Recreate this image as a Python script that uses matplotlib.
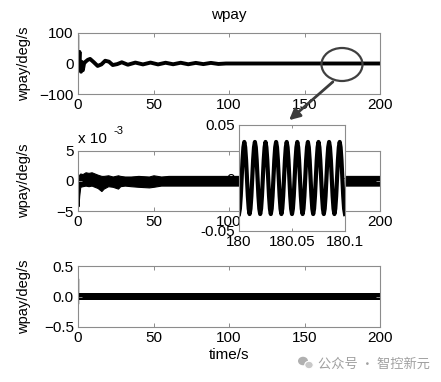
import numpy as np
import matplotlib
matplotlib.use("Agg")
import matplotlib.pyplot as plt
from matplotlib.patches import Ellipse, FancyArrowPatch

plt.rcParams["font.family"] = ["Liberation Sans", "DejaVu Sans"]

# top panel: slow damped response (deg/s)
t_top = [0, 0.6, 1.0, 1.5, 2.0, 2.6, 3.2, 4.0, 5.0, 6.5, 8.0, 10.5, 13.0, 15.5, 18.0,
         20.5, 23.0, 26.0, 29.0, 33.0, 38.0, 43.0, 48.0, 53.0, 58.0, 63.0, 68.0,
         73.0, 78.0, 83.0, 88.0, 93.0, 98.0, 200]
w_top = [0, 10, 38, -20, -27, 5, -22, 0, 6, 12, 15, 4, -8, -3, 9,
         6, -5, -2, 4, -4, 3, -3, 3, -3, 2.5, -2.5, 2.5,
         -2.5, 2, -2, 2, -1.5, 0, 0]
spike_top_t = [0.2, 0.2]
spike_top_v = [0, 95]
# high-frequency band envelope, top panel
band_top_t = [95, 200]
band_top_hi = [3, 3]
band_top_lo = [-3, -3]

# middle panel envelope (x 1e-3 deg/s)
t_mid = [0, 0.3, 0.8, 1.5, 3, 5, 7, 9, 11, 13, 15.5, 17, 20, 23, 26.5, 28, 31, 35,
         40, 47, 50, 55, 60, 65, 70, 100, 150, 200]
mid_hi = [0, 0.5, 1.0, 1.2, 1.1, 1.4, 1.3, 1.4, 1.2, 1.0, 0.8, 0.8, 0.9, 0.7, 0.9,
          0.8, 0.7, 0.7, 0.8, 0.7, 0.9, 0.7, 0.8, 0.8, 0.8, 0.8, 0.8, 0.8]
mid_lo = [0, -4.2, -2.5, -1.0, -0.9, -0.8, -0.9, -0.8, -1.0, -1.2, -1.7, -1.3, -0.9,
          -1.0, -1.3, -0.9, -0.8, -0.9, -1.0, -1.1, -1.0, -0.8, -0.8, -0.8, -0.8,
          -0.8, -0.8, -0.8]

# inset: zoom 180 s .. 180.1 s
t_ins = np.linspace(180.0, 180.1, 121)
w_ins = [-0.034, -0.029, -0.017, 0.000, 0.017, 0.029, 0.034, 0.029, 0.017, 0.000, -0.017, -0.029,
         -0.034, -0.029, -0.017, 0.000, 0.017, 0.029, 0.034, 0.029, 0.017, 0.000, -0.017, -0.029,
         -0.034, -0.029, -0.017, 0.000, 0.017, 0.029, 0.034, 0.029, 0.017, 0.000, -0.017, -0.029,
         -0.034, -0.029, -0.017, 0.000, 0.017, 0.029, 0.034, 0.029, 0.017, 0.000, -0.017, -0.029,
         -0.034, -0.029, -0.017, 0.000, 0.017, 0.029, 0.034, 0.029, 0.017, 0.000, -0.017, -0.029,
         -0.034, -0.029, -0.017, 0.000, 0.017, 0.029, 0.034, 0.029, 0.017, 0.000, -0.017, -0.029,
         -0.034, -0.029, -0.017, 0.000, 0.017, 0.029, 0.034, 0.029, 0.017, 0.000, -0.017, -0.029,
         -0.034, -0.029, -0.017, 0.000, 0.017, 0.029, 0.034, 0.029, 0.017, 0.000, -0.017, -0.029,
         -0.034, -0.029, -0.017, 0.000, 0.017, 0.029, 0.034, 0.029, 0.017, 0.000, -0.017, -0.029,
         -0.034, -0.029, -0.017, 0.000, 0.017, 0.029, 0.034, 0.029, 0.017, 0.000, -0.017, -0.029,
         -0.034]

# bottom panel
spike_bot_t = [0.3, 0.3]
spike_bot_v = [-0.1, 0.28]
band_bot_t = [0.5, 200]
band_bot_hi = [0.055, 0.055]
band_bot_lo = [-0.055, -0.055]

W, H = 441, 382
fig = plt.figure(figsize=(W / 100, H / 100), dpi=100)

def px(x0, y0, x1, y1):
    return [x0 / W, 1 - y1 / H, (x1 - x0) / W, (y1 - y0) / H]

def style(ax):
    for s in ax.spines.values():
        s.set_color("#8c8c8c")
        s.set_linewidth(0.8)
    ax.tick_params(direction="in", length=3, width=0.7, color="#8c8c8c",
                   top=True, right=True, labelsize=11, pad=3)

ylab_x = (31 - 78) / 302

ax1 = fig.add_axes(px(78, 33, 380, 94))
ax1.plot(t_top, w_top, color="black", lw=2.8)
ax1.plot(spike_top_t, spike_top_v, color="black", lw=1)
ax1.fill_between(band_top_t, band_top_lo, band_top_hi, color="black", lw=0)
ax1.set_xlim(0, 200)
ax1.set_ylim(-100, 100)
ax1.set_xticks([0, 50, 100, 150, 200])
ax1.set_yticks([-100, 0, 100])
ax1.set_title("wpay", fontsize=11, pad=10)
ax1.set_ylabel("wpay/deg/s", fontsize=10.5)
ax1.yaxis.set_label_coords(ylab_x, 0.5)
style(ax1)

ax2 = fig.add_axes(px(78, 150.5, 380, 211))
ax2.fill_between(t_mid, mid_lo, mid_hi, color="black", lw=0.8, edgecolor="black")
ax2.set_xlim(0, 200)
ax2.set_ylim(-5, 5)
ax2.set_xticks([0, 50, 100, 150, 200])
ax2.set_yticks([-5, 0, 5])
ax2.set_ylabel("wpay/deg/s", fontsize=10.5)
ax2.yaxis.set_label_coords(ylab_x, 0.5)
style(ax2)
fig.text(78 / W, 1 - 143 / H, "x 10", fontsize=11)
fig.text(113 / W, 1 - 134 / H, "-3", fontsize=8)

ax3 = fig.add_axes(px(78, 266, 380, 327))
ax3.fill_between(band_bot_t, band_bot_lo, band_bot_hi, color="black", lw=0)
ax3.plot(spike_bot_t, spike_bot_v, color="black", lw=1)
ax3.set_xlim(0, 200)
ax3.set_ylim(-0.5, 0.5)
ax3.set_xticks([0, 50, 100, 150, 200])
ax3.set_yticks([-0.5, 0, 0.5])
ax3.set_xlabel("time/s", fontsize=11, labelpad=2)
ax3.set_ylabel("wpay/deg/s", fontsize=10.5)
ax3.yaxis.set_label_coords(ylab_x, 0.5)
style(ax3)

ax4 = fig.add_axes(px(239, 125, 345, 231))
ax4.plot(t_ins, w_ins, color="black", lw=3)
ax4.set_xlim(180, 180.1)
ax4.set_ylim(-0.05, 0.05)
ax4.set_xticks([180, 180.05, 180.1])
ax4.set_xticklabels(["180", "180.05", "180.1"])
ax4.set_yticks([-0.05, 0, 0.05])
ax4.set_yticklabels(["-0.05", "0", "0.05"])
style(ax4)
ax4.tick_params(length=2)

# ellipse marker and arrow
fig.add_artist(Ellipse((342 / W, 1 - 64.5 / H), 41 / W, 33 / H, transform=fig.transFigure,
                       fill=False, edgecolor="#404040", lw=1.6))
fig.add_artist(FancyArrowPatch((335 / W, 1 - 80 / H), (287 / W, 1 - 122 / H),
                               transform=fig.transFigure, arrowstyle="-|>",
                               mutation_scale=16, color="#3c3c3c", lw=2))

# watermark
fig.add_artist(Ellipse((303 / W, 1 - 361 / H), 10 / W, 8.5 / H, transform=fig.transFigure,
                       facecolor="#b0b0b0", edgecolor="none"))
fig.add_artist(Ellipse((309 / W, 1 - 365 / H), 8.5 / W, 7.5 / H, transform=fig.transFigure,
                       facecolor="#c8c8c8", edgecolor="white", lw=0.8))
fig.text(318 / W, 1 - 364 / H, "公众号 · 智控新元", fontsize=9.5, color="#a0a0a0",
         va="center", family=["Noto Sans CJK SC", "DejaVu Sans"])

fig.savefig("out.png", dpi=100)
